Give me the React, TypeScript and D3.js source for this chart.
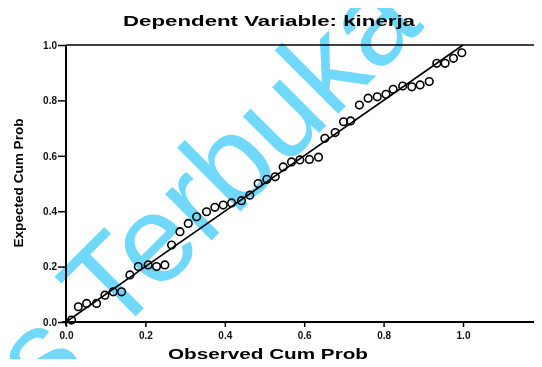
import { useEffect, useRef } from "react";
import * as d3 from "d3";

// observed vs expected cumulative probability
const observed = [
  0.014, 0.031, 0.052, 0.077, 0.098, 0.119, 0.14, 0.161, 0.182, 0.207, 0.228, 0.249,
  0.266, 0.287, 0.308, 0.329, 0.354, 0.375, 0.396, 0.417, 0.442, 0.463, 0.484, 0.506,
  0.527, 0.547, 0.568, 0.589, 0.613, 0.636, 0.652, 0.678, 0.699, 0.717, 0.739, 0.761,
  0.784, 0.806, 0.824, 0.848, 0.871, 0.892, 0.915, 0.934, 0.955, 0.976, 0.997,
];
const expected = [
  0.007, 0.055, 0.067, 0.067, 0.097, 0.109, 0.109, 0.17, 0.2, 0.206, 0.2, 0.206,
  0.278, 0.326, 0.356, 0.38, 0.398, 0.414, 0.422, 0.43, 0.438, 0.458, 0.5, 0.515,
  0.524, 0.56, 0.578, 0.585, 0.587, 0.595, 0.663, 0.684, 0.723, 0.726, 0.783, 0.808,
  0.813, 0.822, 0.84, 0.852, 0.849, 0.856, 0.868, 0.934, 0.934, 0.952, 0.972,
];
const tickValues = [0, 0.2, 0.4, 0.6, 0.8, 1.0];
const title = "Dependent Variable: kinerja";
const xTitle = "Observed Cum Prob";
const yTitle = "Expected Cum Prob";

const PPPlot = () => {
  const svgRef = useRef<SVGSVGElement>(null);

  useEffect(() => {
    const width = 542;
    const height = 367;
    const marginLeft = 66;
    const marginTop = 45;
    const marginBottom = 45;

    const x = d3.scaleLinear().domain([0, 1]).range([marginLeft, 463]);
    const y = d3.scaleLinear().domain([0, 1]).range([height - marginBottom, marginTop]);

    const svg = d3.select(svgRef.current)
      .attr("width", width)
      .attr("height", height)
      .style("display", "block")
      .style("background", "#fff");
    svg.selectAll("*").remove();

    const font = "Liberation Sans, Arial, sans-serif";

    svg.append("text")
      .attr("x", 269)
      .attr("y", 26)
      .attr("text-anchor", "middle")
      .attr("font-family", font)
      .attr("font-weight", "bold")
      .attr("font-size", 14)
      .attr("textLength", 292)
      .attr("lengthAdjust", "spacingAndGlyphs")
      .text(title);

    // frame: top line and axes run to the right edge
    svg.append("line")
      .attr("x1", x(0)).attr("x2", width)
      .attr("y1", y(1)).attr("y2", y(1))
      .attr("stroke", "#000").attr("stroke-width", 1.3);

    const xAxis = svg.append("g")
      .attr("transform", `translate(0,${y(0)})`)
      .call(d3.axisBottom(x).tickValues(tickValues).tickFormat(d3.format(".1f")).tickSize(5).tickSizeOuter(0));
    xAxis.select(".domain").remove();
    xAxis.append("line")
      .attr("x1", x(0) - 4).attr("x2", width)
      .attr("stroke", "#000").attr("stroke-width", 2);
    xAxis.selectAll(".tick line").attr("stroke-width", 1.5);
    xAxis.selectAll(".tick text")
      .attr("font-family", font).attr("font-weight", "bold").attr("font-size", 10)
      .attr("fill", "#111").attr("dy", "0.9em");

    const yAxis = svg.append("g")
      .attr("transform", `translate(${x(0)},0)`)
      .call(d3.axisLeft(y).tickValues(tickValues).tickFormat(d3.format(".1f")).tickSize(8).tickSizeOuter(0));
    yAxis.select(".domain").remove();
    yAxis.append("line")
      .attr("y1", y(1)).attr("y2", y(0) + 4)
      .attr("stroke", "#000").attr("stroke-width", 2);
    yAxis.selectAll(".tick line").attr("stroke-width", 1.5);
    yAxis.selectAll(".tick text")
      .attr("font-family", font).attr("font-weight", "bold").attr("font-size", 10)
      .attr("fill", "#111").attr("x", -9);

    svg.append("text")
      .attr("x", 268)
      .attr("y", 359)
      .attr("text-anchor", "middle")
      .attr("font-family", font)
      .attr("font-weight", "bold")
      .attr("font-size", 14)
      .attr("textLength", 200)
      .attr("lengthAdjust", "spacingAndGlyphs")
      .text(xTitle);

    svg.append("text")
      .attr("transform", `translate(23,183) rotate(-90)`)
      .attr("text-anchor", "middle")
      .attr("font-family", font)
      .attr("font-weight", "bold")
      .attr("font-size", 13)
      .attr("textLength", 129)
      .attr("lengthAdjust", "spacingAndGlyphs")
      .text(yTitle);

    // reference diagonal
    svg.append("line")
      .attr("x1", x(0)).attr("y1", y(0))
      .attr("x2", x(1)).attr("y2", y(1))
      .attr("stroke", "#000").attr("stroke-width", 1.6);

    const pts = observed.map((o, i) => ({ o, e: expected[i] }));
    svg.append("g")
      .selectAll("circle")
      .data(pts)
      .join("circle")
      .attr("cx", d => x(d.o))
      .attr("cy", d => y(d.e))
      .attr("r", 3.8)
      .attr("fill", "none")
      .attr("stroke", "#000")
      .attr("stroke-width", 1.6);

    // watermark
    const wm = svg.append("g")
      .attr("transform", "translate(113,339) rotate(-45)")
      .style("mix-blend-mode", "multiply")
      .attr("fill", "#70d8fb")
      .attr("font-family", font)
      .attr("font-size", 124);
    wm.append("text").attr("x", 0).text("Terbuka");
    wm.append("text").attr("x", -34).attr("text-anchor", "end").text("Universitas");
  }, []);

  return <svg ref={svgRef}></svg>;
};

export default function App() {
  return (
    <div style={{ margin: -8 }}>
      <PPPlot />
    </div>
  );
}
